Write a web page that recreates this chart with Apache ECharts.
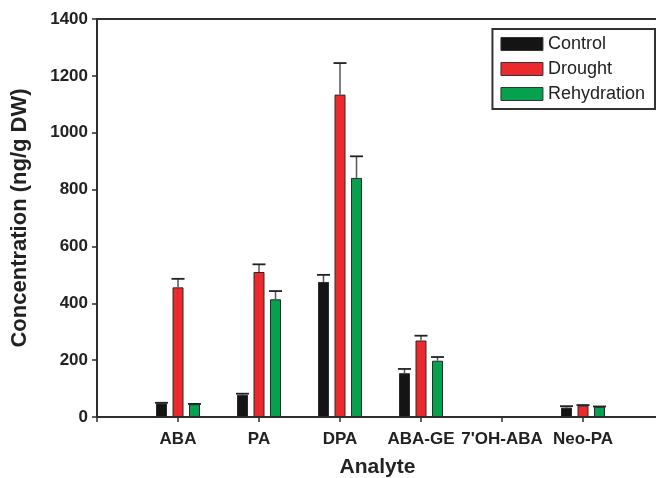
<!DOCTYPE html>
<html><head><meta charset="utf-8">
<script src="https://cdn.jsdelivr.net/npm/echarts@6/dist/echarts.min.js"></script>
<style>html,body{margin:0;padding:0;background:#fff}#c{width:656px;height:478px}</style>
</head><body><div id="c"></div>
<script>
var categories = ["ABA", "PA", "DPA", "ABA-GE", "7'OH-ABA", "Neo-PA"];
var seriesNames = ["Control", "Drought", "Rehydration"];
var control = [48, 78, 475, 154, null, 33];
var drought = [456, 510, 1134, 269, null, 40];
var rehydration = [45, 414, 841, 198, null, 36];
var controlErr = [50, 82, 500, 169, null, 38];
var droughtErr = [486, 537, 1245, 286, null, 42];
var rehydrationErr = [46, 443, 917, 211, null, 37];
var yTicks = [0, 200, 400, 600, 800, 1000, 1200, 1400];

var colors = ['#141414', '#ec2a2e', '#06a14f'];
var values = [control, drought, rehydration];
var errs = [controlErr, droughtErr, rehydrationErr];
var offsets = [-16.5, 0, 16.5];
var boldFont = 'Liberation Sans';

var series = [];
values.forEach(function (arr, s) {
  series.push({
    name: seriesNames[s], type: 'bar', barWidth: 11, barGap: '50%',
    itemStyle: { color: colors[s], borderColor: '#2a2a2a', borderWidth: 1 },
    data: arr.map(function (v, i) { return v == null ? null : [i + 1, v]; }),
    animation: false, z: 2
  });
});
values.forEach(function (arr, s) {
  series.push({
    type: 'custom', silent: true, animation: false, z: 3,
    data: arr.map(function (v, i) { return v == null ? null : [i + 1, v, errs[s][i]]; }).filter(function (d) { return d; }),
    renderItem: (function (off) {
      return function (params, api) {
        var p0 = api.coord([api.value(0), api.value(1)]);
        var p1 = api.coord([api.value(0), api.value(2)]);
        var x = p0[0] + off;
        return { type: 'group', children: [
          { type: 'line', shape: { x1: x, y1: p0[1], x2: x, y2: p1[1] }, style: { stroke: '#555', lineWidth: 1.5 } },
          { type: 'line', shape: { x1: x - 6.5, y1: p1[1], x2: x + 6.5, y2: p1[1] }, style: { stroke: '#222', lineWidth: 1.8 } }
        ]};
      };
    })(offsets[s])
  });
});

var xMax = 561 / 81;
var chart = echarts.init(document.getElementById('c'), null, { renderer: 'canvas' });
chart.setOption({
  backgroundColor: '#fff',
  animation: false,
  grid: { left: 97, right: -2, top: 19, bottom: 61, outerBoundsMode: 'none', containLabel: false },
  legend: {
    data: seriesNames.map(function (n) { return { name: n, icon: 'rect' }; }),
    orient: 'vertical', right: 1, top: 29,
    itemWidth: 42, itemHeight: 13, itemGap: 7,
    padding: [6, 10, 6, 8], borderColor: '#333', borderWidth: 2,
    textStyle: { fontFamily: 'Liberation Sans', fontSize: 18, color: '#222', lineHeight: 16 },
    itemStyle: { borderColor: '#333', borderWidth: 1 }
  },
  xAxis: [{
    type: 'value', min: 0, max: xMax, interval: 1,
    splitLine: { show: false },
    axisLine: { lineStyle: { color: '#2e2e2e', width: 2 } },
    axisTick: { length: 5, lineStyle: { color: '#2e2e2e', width: 1.5 } },
    axisLabel: {
      showMaxLabel: false, margin: 14,
      fontFamily: boldFont, fontWeight: 'bold', fontSize: 17, color: '#222',
      formatter: function (v) { return (v >= 1 && v <= categories.length && Math.round(v) === v) ? categories[v - 1] : ''; }
    },
    name: 'Analyte', nameLocation: 'middle', nameGap: 40,
    nameTextStyle: { fontFamily: boldFont, fontWeight: 'bold', fontSize: 21, color: '#222' }
  }, {
    type: 'value', position: 'top', min: 0, max: xMax,
    splitLine: { show: false },
    axisLine: { show: true, lineStyle: { color: '#2e2e2e', width: 2 } },
    axisTick: { show: false }, axisLabel: { show: false }
  }],
  yAxis: {
    type: 'value', min: yTicks[0], max: yTicks[yTicks.length - 1], interval: 200,
    splitLine: { show: false },
    axisLine: { show: true, lineStyle: { color: '#2e2e2e', width: 2 } },
    axisTick: { show: true, length: 5, lineStyle: { color: '#2e2e2e', width: 1.5 } },
    axisLabel: { margin: 9, fontFamily: boldFont, fontWeight: 'bold', fontSize: 17, color: '#222',
      formatter: function (v) { return String(v); } },
    name: 'Concentration (ng/g DW)', nameLocation: 'middle', nameGap: 66,
    nameTextStyle: { fontFamily: boldFont, fontWeight: 'bold', fontSize: 22, color: '#222' }
  },
  series: series
});
</script></body></html>
